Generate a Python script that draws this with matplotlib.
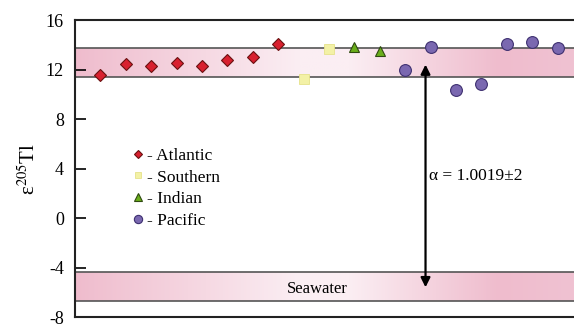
import numpy as np
import matplotlib
matplotlib.use("Agg")
import matplotlib.pyplot as plt
from matplotlib.colors import LinearSegmentedColormap

plt.rcParams['font.family'] = ['Liberation Serif', 'DejaVu Serif']
plt.rcParams['mathtext.fontset'] = 'stix'
plt.rcParams['axes.unicode_minus'] = False

# sample data (epsilon 205Tl), sample index along x
atl_x = [1, 2, 3, 4, 5, 6, 7, 8]
atl_y = [11.55, 12.45, 12.3, 12.55, 12.3, 12.75, 13.05, 14.05]
sou_x = [9, 10]
sou_y = [11.25, 13.65]
ind_x = [11, 12]
ind_y = [13.8, 13.5]
pac_x = [13, 14, 15, 16, 17, 18, 19]
pac_y = [11.95, 13.8, 10.35, 10.85, 14.1, 14.25, 13.7]

sed_band = (11.4, 13.7)
sea_band = (-6.7, -4.4)
alpha_label = "α = 1.0019±2"

fig = plt.figure(figsize=(5.74, 3.26), dpi=100)
ax = fig.add_axes([75 / 574, 9 / 326, 1 - 75 / 574, 297 / 326])
xmax = (574 - 75) / 25.4
ax.set_xlim(0, xmax)
ax.set_ylim(-8, 16)

# gradient-filled bands
pink = LinearSegmentedColormap.from_list(
    'pk', [(0.0, '#efbccd'), (0.45, '#fbeef3'), (0.55, '#fbeef3'), (0.85, '#efbccd'), (1.0, '#f0c2d2')])
grad = np.linspace(0, 1, 256).reshape(1, -1)
for lo, hi in (sed_band, sea_band):
    ax.imshow(grad, cmap=pink, aspect='auto', extent=(0, xmax, lo, hi), zorder=0)
    ax.axhline(lo, color='#555555', lw=1.2, zorder=1)
    ax.axhline(hi, color='#555555', lw=1.2, zorder=1)

ax.plot(atl_x, atl_y, 'D', ms=6, color='#d8202f', mec='#6a1010', mew=0.8, ls='none', label='- Atlantic', zorder=3)
ax.plot(sou_x, sou_y, 's', ms=7, color='#f3f1a6', mec='#e6e28a', mew=0.6, ls='none', label='- Southern', zorder=3)
ax.plot(ind_x, ind_y, '^', ms=7.5, color='#6aae1a', mec='#2f4a10', mew=0.8, ls='none', label='- Indian', zorder=3)
ax.plot(pac_x, pac_y, 'o', ms=8.5, color='#7a68b0', mec='#3e3070', mew=0.8, ls='none', label='- Pacific', zorder=3)

leg = ax.legend(loc='upper left', bbox_to_anchor=(125 / 574, 1 - 139 / 326), bbox_transform=fig.transFigure,
                frameon=False, fontsize=12.5, handlelength=0.5, handletextpad=0.25,
                labelspacing=0.32, markerscale=0.7, borderpad=0)

ax.annotate('', xy=(13.8, -5.6), xytext=(13.8, 12.4),
            arrowprops=dict(arrowstyle='<|-|>', color='black', lw=1.6,
                            mutation_scale=14, shrinkA=0, shrinkB=0), zorder=4)
ax.text(13.95, 3.4, alpha_label, fontsize=12.5, ha='left', va='center',
        bbox=dict(facecolor='white', edgecolor='none', pad=2), zorder=5)
ax.text(9.55, -5.75, 'Seawater', fontsize=12, ha='center', va='center', zorder=5)

ax.set_yticks([-8, -4, 0, 4, 8, 12, 16])
ax.set_xticks([])
ax.tick_params(axis='y', direction='in', length=8, width=1.2, labelsize=13, pad=8)
ax.spines['right'].set_visible(False)
for s in ('left', 'top', 'bottom'):
    ax.spines[s].set_linewidth(1.5)
    ax.spines[s].set_color('#222222')
ax.set_ylabel(r'ε$^{205}$Tl', fontsize=15, labelpad=4)

fig.savefig('out.png', dpi=100)
